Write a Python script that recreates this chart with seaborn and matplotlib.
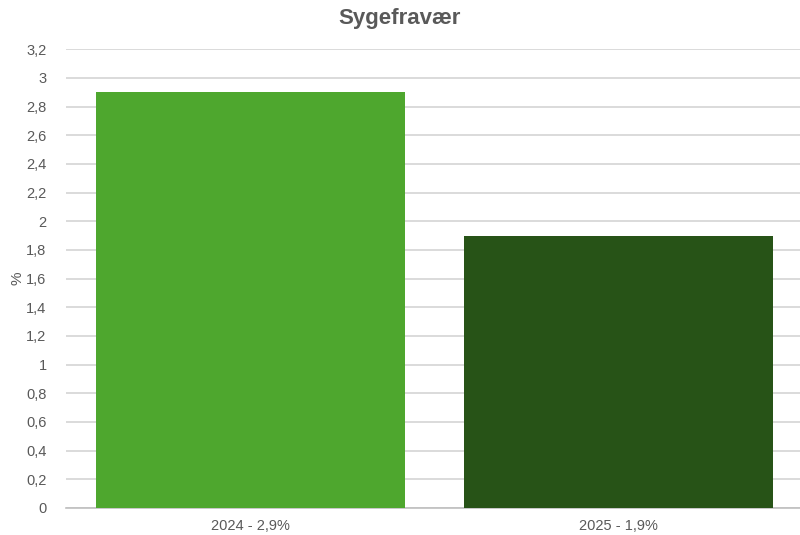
import matplotlib
matplotlib.use("Agg")
import matplotlib.pyplot as plt
import seaborn as sns
import pandas as pd

categories = ["2024 - 2,9%", "2025 - 1,9%"]
values = [2.9, 1.9]
colors = ["#4EA72E", "#275317"]
yticks = [0, 0.2, 0.4, 0.6, 0.8, 1, 1.2, 1.4, 1.6, 1.8, 2, 2.2, 2.4, 2.6, 2.8, 3, 3.2]

sns.set_theme(style="white")
plt.rcParams['font.family'] = ['Liberation Sans Narrow', 'Liberation Sans', 'DejaVu Sans']

df = pd.DataFrame({"cat": categories, "val": values})

fig = plt.figure(figsize=(8, 5.35), dpi=100)
ax = fig.add_axes([0.0825, 0.0505, 0.921, 0.8575])
sns.barplot(data=df, x="cat", y="val", hue="cat", palette=colors, width=0.838,
            legend=False, ax=ax, saturation=1, zorder=3, linewidth=0)
ax.set_xlim(-0.5, 1.5)
ax.set_ylim(0, 3.2)
ax.set_yticks(yticks)
ax.set_yticklabels([f"{t:g}".replace(".", ",") for t in yticks])
ax.yaxis.grid(True, color="#D4D4D4", linewidth=1.2, zorder=0)
ax.set_axisbelow(True)
for s in ["top", "right", "left"]:
    ax.spines[s].set_visible(False)
ax.spines["bottom"].set_color("#BFBFBF")
ax.spines["bottom"].set_linewidth(1.2)
ax.tick_params(axis="both", length=0, labelsize=10.5, colors="#595959")
ax.tick_params(axis="y", pad=14)
ax.tick_params(axis="x", pad=8)
ax.set_xlabel("")
ax.set_ylabel("%", fontsize=11, color="#595959")
ax.yaxis.set_label_coords(-0.0565, 0.5)
fig.suptitle("Sygefravær", x=0.5, y=0.985, fontsize=16, fontweight="bold", color="#595959")
fig.savefig("out.png", dpi=100)
